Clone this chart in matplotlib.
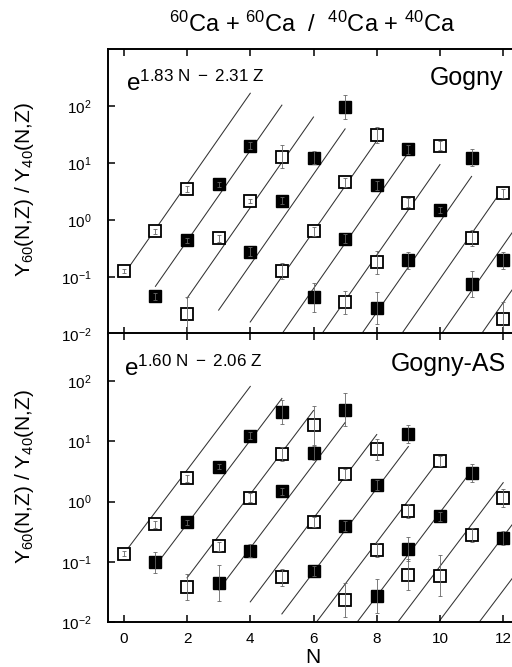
import numpy as np
import matplotlib
matplotlib.use("Agg")
import matplotlib.pyplot as plt
from matplotlib.ticker import NullLocator

plt.rcParams['font.family'] = ['Liberation Sans', 'DejaVu Sans']
plt.rcParams['mathtext.fontset'] = 'custom'
plt.rcParams['mathtext.rm'] = 'Liberation Sans'
plt.rcParams['mathtext.it'] = 'Liberation Sans:italic'
plt.rcParams['mathtext.bf'] = 'Liberation Sans:bold'

# --- Gogny (upper panel): isotope ratios Y60/Y40, one row per point
gogny_Z = [1, 1, 1,
           2, 2, 2, 2,
           3, 3, 3, 3,
           4, 4, 4, 4,
           5, 5, 5, 5,
           6, 6, 6, 6,
           7, 7, 7, 7,
           8, 8, 8, 8,
           9, 9,
           10, 10,
           11]
gogny_N = [0, 1, 2,
           1, 2, 3, 4,
           2, 3, 4, 5,
           4, 5, 6, 7,
           5, 6, 7, 8,
           6, 7, 8, 9,
           7, 8, 9, 10,
           8, 9, 10, 11,
           11, 12,
           11, 12,
           12]
gogny_Y = [0.128, 0.63, 3.5,
           0.046, 0.44, 4.2, 20.0,
           0.022, 0.48, 2.16, 12.9,
           0.28, 2.16, 12.4, 96.0,
           0.128, 0.64, 4.6, 31.0,
           0.044, 0.47, 4.1, 17.4,
           0.036, 0.18, 2.0, 19.9,
           0.029, 0.195, 1.5, 12.4,
           0.48, 2.95,
           0.075, 0.195,
           0.018]
# multiplicative error factor (bar goes from Y/f to Y*f)
gogny_err = [1.1, 1.1, 1.15,
             1.15, 1.1, 1.1, 1.15,
             2.0, 1.15, 1.1, 1.6,
             1.2, 1.15, 1.3, 1.6,
             1.4, 1.2, 1.2, 1.4,
             1.8, 1.2, 1.2, 1.2,
             1.6, 1.6, 1.2, 1.2,
             1.9, 1.4, 1.15, 1.4,
             1.4, 1.2,
             1.7, 1.4,
             2.0]

# --- Gogny-AS (lower panel)
gognyas_Z = [1, 1, 1,
             2, 2, 2, 2, 2,
             3, 3, 3, 3, 3,
             4, 4, 4, 4, 4,
             5, 5, 5, 5,
             6, 6, 6, 6,
             7, 7, 7, 7,
             8, 8, 8, 8,
             9, 9, 9, 9,
             10]
gognyas_N = [0, 1, 2,
             1, 2, 3, 4, 5,
             2, 3, 4, 5, 6,
             3, 4, 5, 6, 7,
             5, 6, 7, 8,
             6, 7, 8, 9,
             7, 8, 9, 10,
             8, 9, 10, 11,
             9, 10, 11, 12,
             12]
gognyas_Y = [0.135, 0.42, 2.43,
             0.098, 0.45, 3.8, 12.4, 31.0,
             0.038, 0.18, 1.16, 6.2, 18.5,
             0.044, 0.154, 1.49, 6.4, 33.7,
             0.055, 0.46, 2.87, 7.4,
             0.07, 0.39, 1.88, 13.2,
             0.023, 0.158, 0.69, 4.7,
             0.027, 0.164, 0.57, 2.95,
             0.061, 0.059, 0.28, 1.16,
             0.25]
gognyas_err = [1.1, 1.15, 1.15,
               1.5, 1.1, 1.1, 1.15, 1.6,
               1.65, 1.2, 1.2, 1.3, 2.1,
               2.0, 1.3, 1.15, 1.3, 1.9,
               1.4, 1.2, 1.2, 1.5,
               1.2, 1.2, 1.2, 1.4,
               1.9, 1.3, 1.3, 1.2,
               1.9, 1.6, 1.2, 1.4,
               1.8, 2.2, 1.3, 1.4,
               1.3]

# isoscaling fits  Y60/Y40 = exp(alpha*N - beta*Z + c)
line_Z = list(range(1, 12))
gogny_fit = (1.83, 2.31, 0.11)
gognyas_fit = (1.60, 2.06, 0.064)


def panel(ax, Z, N, Y, err, fit):
	Z = np.array(Z)
	N = np.array(N, dtype=float)
	Y = np.array(Y)
	err = np.array(err)
	alpha, beta, c = fit
	for z in line_Z:
		nn = np.array([z - 1, z + 3], dtype=float)
		ax.plot(nn, np.exp(alpha * nn - beta * z + c), color='0.2', lw=0.75, zorder=1)

	odd = Z % 2 == 1
	ax.plot(N[odd], Y[odd], 's', mfc='white', mec='black', mew=1.3, ms=9, zorder=3)
	ax.plot(N[~odd], Y[~odd], 's', mfc='black', mec='black', ms=9, zorder=3)
	ax.errorbar(N, Y, yerr=[Y - Y / err, Y * err - Y], fmt='none', ecolor='0.4',
				elinewidth=0.6, capsize=1.5, capthick=0.6, zorder=4)

	ax.set_yscale('log')
	ax.set_xlim(-0.5, 12.5)
	ax.set_xticks(range(0, 13, 2))
	ax.set_yticks([1e-2, 1e-1, 1e0, 1e1, 1e2])
	ax.yaxis.set_minor_locator(NullLocator())
	ax.xaxis.set_minor_locator(NullLocator())
	ax.tick_params(which='both', direction='in', top=True, right=True,
				   length=5, width=1.1, labelsize=11)
	ax.tick_params(axis='y', pad=12)
	ax.tick_params(axis='x', pad=7)
	for s in ax.spines.values():
		s.set_linewidth(1.4)


fig = plt.figure(figsize=(5.12, 6.67), dpi=100)
ax1 = fig.add_axes([108 / 512, 333 / 667, 411 / 512, 285 / 667])
ax2 = fig.add_axes([108 / 512, 45 / 667, 411 / 512, 289 / 667])

panel(ax1, gogny_Z, gogny_N, gogny_Y, gogny_err, gogny_fit)
ax1.set_ylim(1e-2, 1e3)
ax1.tick_params(axis='x', labelbottom=False)

panel(ax2, gognyas_Z, gognyas_N, gognyas_Y, gognyas_err, gognyas_fit)
ax2.set_ylim(1e-2, 10 ** 2.8)

ax1.text(0.045, 0.925, r'$\mathregular{e^{1.83\ N\ -\ 2.31\ Z}}$', transform=ax1.transAxes,
		 fontsize=17.5, va='top', ha='left')
ax1.text(0.962, 0.875, 'Gogny', transform=ax1.transAxes, fontsize=18,
		 ha='right', va='baseline')
ax2.text(0.04, 0.922, r'$\mathregular{e^{1.60\ N\ -\ 2.06\ Z}}$', transform=ax2.transAxes,
		 fontsize=17.5, va='top', ha='left')
ax2.text(0.968, 0.870, 'Gogny-AS', transform=ax2.transAxes, fontsize=18,
		 ha='right', va='baseline')

fig.text(312 / 512, 1 - 31.5 / 667, r'$^{60}$Ca + $^{60}$Ca  /  $^{40}$Ca + $^{40}$Ca',
		 ha='center', va='baseline', fontsize=17)
fig.text(313 / 512, 1 - 663 / 667, 'N', ha='center', va='baseline', fontsize=15)
fig.text(25 / 512, 1 - 190 / 667, r'Y$_{60}$(N,Z) / Y$_{40}$(N,Z)', rotation=90,
		 ha='center', va='center', fontsize=15)
fig.text(25 / 512, 1 - 477 / 667, r'Y$_{60}$(N,Z) / Y$_{40}$(N,Z)', rotation=90,
		 ha='center', va='center', fontsize=15)

fig.savefig('out.png', dpi=100)
